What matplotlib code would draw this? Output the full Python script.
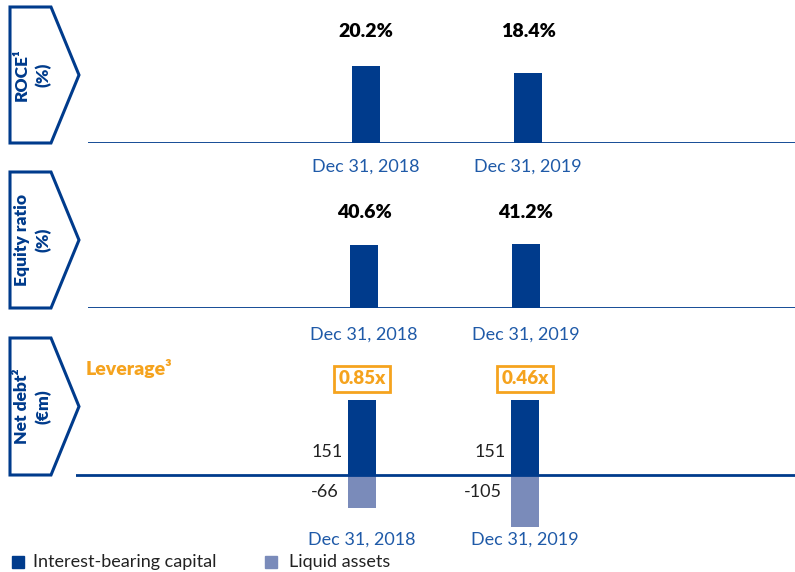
import matplotlib.pyplot as plt
from matplotlib.patches import Polygon, Rectangle

# data
dates = ['Dec 31, 2018', 'Dec 31, 2019']
roce = [20.2, 18.4]
equity_ratio = [40.6, 41.2]
interest_capital = [151, 151]
liquid_assets = [-66, -105]
leverage = ['0.85x', '0.46x']

dark = '#003B8C'
light = '#7A8BBA'
blue_txt = '#1F5AA8'
orange = '#F5A31E'

plt.rcParams['font.family'] = ['Lato', 'DejaVu Sans']

W, H = 795, 572
fig = plt.figure(figsize=(W / 100, H / 100), dpi=100)


def fx(x):
    return x / W


def fy(y):
    return 1 - y / H


def add_axes(left, right, top, bottom):
    return fig.add_axes([fx(left), fy(bottom), fx(right - left), (bottom - top) / H])


def chevron(top, bottom, label):
    mid = (top + bottom) / 2
    pts = [(10, top), (51, top), (79, mid), (51, bottom), (10, bottom)]
    fig.add_artist(Polygon([(fx(a), fy(b)) for a, b in pts], closed=True,
                           fill=False, edgecolor=dark, lw=2.2,
                           transform=fig.transFigure))
    fig.text(fx(33), fy(mid), label, rotation=90, ha='center', va='center',
             color=dark, fontsize=12.5, fontweight='heavy', linespacing=1.4,
             multialignment='center')


def clean(ax):
    for s in ['top', 'right', 'left', 'bottom']:
        ax.spines[s].set_visible(False)
    ax.set_xticks([])
    ax.set_yticks([])
    ax.patch.set_alpha(0)


x = [0, 1]
bw = 0.167
fs = 13

# panel 1 - ROCE
ax1 = add_axes(88, 795, 20, 143)
px1 = 77 / 20.2
ax1.set_ylim(0, 123 / px1)
ax1.set_xlim(-(366 - 88) / 162, (795 - 366) / 162)
ax1.bar(x, roce, width=bw, color=dark)
ax1.axhline(0, color=dark, lw=2)
for xi, v, d in zip(x, roce, dates):
    ax1.text(xi, 0.91, f'{v:.1f}%', transform=ax1.get_xaxis_transform(),
             ha='center', va='center', fontsize=14, fontweight='heavy')
    ax1.annotate(d, xy=(xi, 0), xytext=(0, -24), textcoords='offset pixels',
                 ha='center', va='center', fontsize=fs, color=blue_txt,
                 annotation_clip=False)
clean(ax1)
chevron(7, 143, 'ROCE¹\n(%)')

# panel 2 - Equity ratio
ax2 = add_axes(88, 795, 190, 308)
px2 = 63 / 40.6
ax2.set_ylim(0, 118 / px2)
ax2.set_xlim(-(364 - 88) / 162, (795 - 364) / 162)
ax2.bar(x, equity_ratio, width=bw, color=dark)
ax2.axhline(0, color=dark, lw=2)
for xi, v, d in zip(x, equity_ratio, dates):
    ax2.annotate(f'{v:.1f}%', xy=(xi, 0), xytext=(0, 95), textcoords='offset pixels',
                 ha='center', va='center', fontsize=14, fontweight='heavy',
                 annotation_clip=False)
    ax2.annotate(d, xy=(xi, 0), xytext=(0, -27), textcoords='offset pixels',
                 ha='center', va='center', fontsize=fs, color=blue_txt,
                 annotation_clip=False)
clean(ax2)
chevron(172, 308, 'Equity ratio\n(%)')

# panel 3 - Net debt
ax3 = add_axes(76, 795, 390, 535)
px3 = 75 / 151
ax3.set_ylim(-60 / px3, 85 / px3)
ax3.set_xlim(-(362 - 76) / 163, (795 - 362) / 163)
ax3.bar(x, interest_capital, width=bw, color=dark)
ax3.bar(x, liquid_assets, width=bw, color=light)
ax3.axhline(0, color=dark, lw=2)
for xi, p, n, lv, d in zip(x, interest_capital, liquid_assets, leverage, dates):
    ax3.annotate(str(p), xy=(xi - bw / 2, 0), xytext=(-6, 23), textcoords='offset pixels',
                 ha='right', va='center', fontsize=fs, color='#222222')
    ax3.annotate(str(n), xy=(xi - bw / 2, 0), xytext=(-10, -17), textcoords='offset pixels',
                 ha='right', va='center', fontsize=fs, color='#222222')
    ax3.annotate(lv, xy=(xi, 0), xytext=(0, 96), textcoords='offset pixels',
                 ha='center', va='center', fontsize=13.5, fontweight='heavy', color=orange,
                 annotation_clip=False,
                 bbox=dict(boxstyle='square,pad=0.25', fc='white', ec=orange, lw=2))
    ax3.annotate(d, xy=(xi, 0), xytext=(0, -65), textcoords='offset pixels',
                 ha='center', va='center', fontsize=fs, color=blue_txt,
                 annotation_clip=False)
clean(ax3)
chevron(338, 475, 'Net debt²\n(€m)')
fig.text(fx(86), fy(368), 'Leverage³', ha='left', va='center', fontsize=14,
         fontweight='heavy', color=orange)

# legend
fig.add_artist(Rectangle((fx(12), fy(568)), fx(12), 12 / H, color=dark,
                         transform=fig.transFigure))
fig.text(fx(33), fy(562), 'Interest-bearing capital', ha='left', va='center',
         fontsize=fs, color='#222222')
fig.add_artist(Rectangle((fx(265), fy(568)), fx(12), 12 / H, color=light,
                         transform=fig.transFigure))
fig.text(fx(289), fy(562), 'Liquid assets', ha='left', va='center',
         fontsize=fs, color='#222222')

fig.savefig('out.png', dpi=100)
